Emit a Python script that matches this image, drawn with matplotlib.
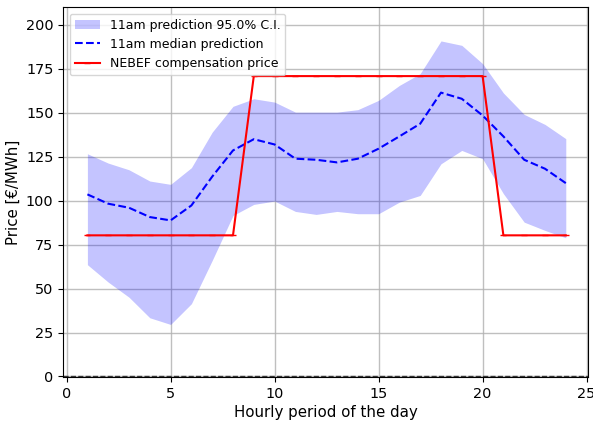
import matplotlib
matplotlib.use("Agg")
import matplotlib.pyplot as plt
import numpy as np

hours = list(range(1, 25))
median = [103.6, 98.3, 96.0, 90.7, 88.8, 97.3, 113.7, 128.6, 135.0, 132.0, 123.9, 123.3,
          121.8, 123.9, 129.6, 136.6, 143.8, 161.5, 158.0, 148.5, 136.6, 123.3, 118.2, 110.0]
upper = [126.7, 121.4, 117.6, 111.2, 109.3, 118.8, 139.0, 153.7, 158.0, 156.1, 150.4, 150.4,
         150.4, 151.8, 157.1, 165.6, 172.3, 190.9, 188.4, 178.0, 161.3, 149.1, 143.4, 135.3]
lower = [63.6, 53.7, 45.1, 33.4, 29.6, 41.4, 66.0, 91.6, 97.9, 99.8, 93.9, 92.2,
         93.9, 92.6, 92.6, 99.2, 103.0, 121.0, 128.6, 123.9, 104.0, 87.8, 83.1, 78.9]
nebef = [80.3] * 8 + [170.9] * 12 + [80.3] * 4

fig = plt.figure(figsize=(5.93, 4.21), dpi=100)
ax = fig.add_axes([0.1067, 0.1045, 0.8853, 0.878])

ax.fill_between(hours, lower, upper, color="blue", alpha=0.23, linewidth=0,
                label="11am prediction 95.0% C.I.")
ax.plot(hours, median, color="blue", linestyle="--", linewidth=1.5,
        label="11am median prediction")
ax.plot(hours, nebef, color="red", linewidth=1.5, marker="_", markersize=5,
        label="NEBEF compensation price")
ax.axhline(0, color="black", linestyle="--", linewidth=1.0, alpha=0.7)

ax.set_xlim(-0.16, 25.08)
ax.set_ylim(-0.3, 210)
ax.set_xticks([0, 5, 10, 15, 20, 25])
ax.set_yticks([0, 25, 50, 75, 100, 125, 150, 175, 200])
ax.grid(True, color="#b0b0b0", linewidth=1.0, alpha=0.8)
ax.set_axisbelow(True)
ax.tick_params(labelsize=10.4)
ax.set_xlabel("Hourly period of the day", fontsize=10.8, labelpad=3)
ax.set_ylabel("Price [€/MWh]", fontsize=10.8)
ax.legend(loc="upper left", fontsize=9)

fig.savefig("out.png", dpi=100)
